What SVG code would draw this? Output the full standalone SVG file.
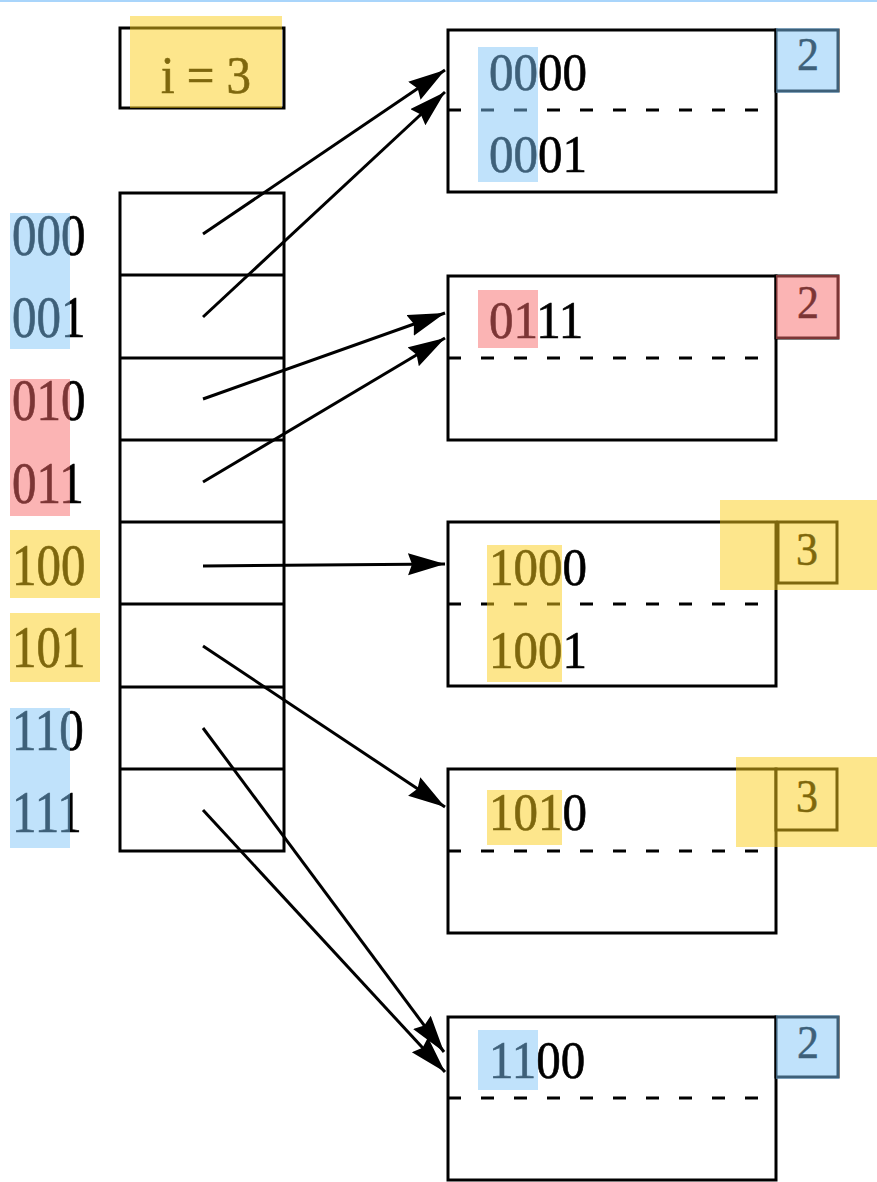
<svg xmlns="http://www.w3.org/2000/svg" width="877" height="1182" viewBox="0 0 877 1182">
<style>
.box{fill:#fff;stroke:#000;stroke-width:3}
.ln{stroke:#000;stroke-width:3;fill:none}
.dash{stroke:#000;stroke-width:3;stroke-dasharray:13 20;fill:none}
.t{font-family:"Liberation Serif","Times New Roman",serif;font-size:49px;fill:#000;stroke:#000;stroke-width:0.6}
.d{font-family:"Liberation Serif","Times New Roman",serif;font-size:44px;fill:#000;stroke:#000;stroke-width:0.5;text-anchor:middle}
.hb{fill:#7ec4f7;opacity:.49}
.hy{fill:#fbcd19;opacity:.5}
.hp{fill:#f76969;opacity:.5}
.arr{stroke:#000;stroke-width:3;fill:none;marker-end:url(#ah)}
</style>
<defs>
<marker id="ah" markerUnits="userSpaceOnUse" markerWidth="42" markerHeight="26" refX="37" refY="11" orient="auto">
<path d="M0,0 L37,11 L0,22 L4,11 z" fill="#000"/>
</marker>
</defs>
<rect x="0" y="0" width="877" height="2" fill="#a9d5fb"/>

<g id="global-depth">
<rect class="box" x="120" y="28" width="164" height="80"/>
<text class="t" font-size="46" text-anchor="middle" transform="translate(206,93) scale(1,1.08)">i = 3</text>
<rect class="hy" x="130" y="16" width="152" height="92"/>
</g>

<g id="directory">
<rect class="box" x="120" y="193" width="164" height="658"/>
<path class="ln" d="M120,275H284M120,358H284M120,440H284M120,522H284M120,604H284M120,687H284M120,769H284"/>
<text class="t" transform="translate(12,255) scale(1,1.2)">000</text>
<text class="t" transform="translate(12,337) scale(1,1.2)">001</text>
<text class="t" transform="translate(12,420) scale(1,1.2)">010</text>
<text class="t" transform="translate(12,503) scale(1,1.2)">011</text>
<text class="t" transform="translate(12,585) scale(1,1.2)">100</text>
<text class="t" transform="translate(12,667) scale(1,1.2)">101</text>
<text class="t" transform="translate(12,750) scale(1,1.2)">110</text>
<text class="t" transform="translate(12,832) scale(1,1.2)">111</text>
<rect class="hb" x="10" y="213" width="60" height="136"/>
<rect class="hp" x="10" y="379" width="60" height="137"/>
<rect class="hy" x="10" y="530" width="90" height="68"/>
<rect class="hy" x="10" y="613" width="90" height="69"/>
<rect class="hb" x="10" y="708" width="60" height="140"/>
</g>

<g id="bucket1">
<rect class="box" x="448" y="30" width="328" height="162"/>
<rect class="box" x="776" y="30" width="62" height="61"/>
<path class="dash" d="M448,110H761"/>
<text class="t" transform="translate(489,90) scale(1,1.08)">0000</text>
<text class="t" transform="translate(489,172) scale(1,1.08)">0001</text>
<text class="d" transform="translate(808,70) scale(1,1.06)">2</text>
<rect class="hb" x="478" y="47" width="60" height="135"/>
<rect class="hb" x="776" y="28" width="63" height="65"/>
</g>

<g id="bucket2">
<rect class="box" x="448" y="276" width="328" height="164"/>
<rect class="box" x="776" y="276" width="62" height="62"/>
<path class="dash" d="M448,358H761"/>
<text class="t" transform="translate(489,338) scale(1,1.08)">0111</text>
<text class="d" transform="translate(808,318) scale(1,1.06)">2</text>
<rect class="hp" x="478" y="290" width="60" height="58"/>
<rect class="hp" x="776" y="275" width="64" height="64"/>
</g>

<g id="bucket3">
<rect class="box" x="448" y="522" width="328" height="164"/>
<rect class="box" x="778" y="522" width="59" height="61"/>
<path class="dash" d="M448,604H761"/>
<text class="t" transform="translate(489,585) scale(1,1.08)">1000</text>
<text class="t" transform="translate(489,668) scale(1,1.08)">1001</text>
<text class="d" transform="translate(807,565) scale(1,1.06)">3</text>
<rect class="hy" x="487" y="545" width="75" height="137"/>
<rect class="hy" x="720" y="500" width="157" height="90"/>
</g>

<g id="bucket4">
<rect class="box" x="448" y="769" width="328" height="164"/>
<rect class="box" x="776" y="769" width="61" height="61"/>
<path class="dash" d="M448,851H761"/>
<text class="t" transform="translate(489,830) scale(1,1.08)">1010</text>
<text class="d" transform="translate(807,812) scale(1,1.06)">3</text>
<rect class="hy" x="487" y="790" width="75" height="55"/>
<rect class="hy" x="736" y="757" width="141" height="90"/>
</g>

<g id="bucket5">
<rect class="box" x="448" y="1017" width="328" height="163"/>
<rect class="box" x="776" y="1017" width="62" height="60"/>
<path class="dash" d="M448,1098H761"/>
<text class="t" transform="translate(489,1078) scale(1,1.08)">1100</text>
<text class="d" transform="translate(808,1058) scale(1,1.06)">2</text>
<rect class="hb" x="478" y="1030" width="60" height="60"/>
<rect class="hb" x="776" y="1015" width="63" height="64"/>
</g>

<g id="connectors">
<path class="arr" d="M203,234L445,70"/>
<path class="arr" d="M203,317L445,92"/>
<path class="arr" d="M203,399L445,313"/>
<path class="arr" d="M203,482L445,338"/>
<path class="arr" d="M203,566L445,564"/>
<path class="arr" d="M203,646L445,807"/>
<path class="arr" d="M203,728L444,1052"/>
<path class="arr" d="M203,810L445,1072"/>
</g>
</svg>
